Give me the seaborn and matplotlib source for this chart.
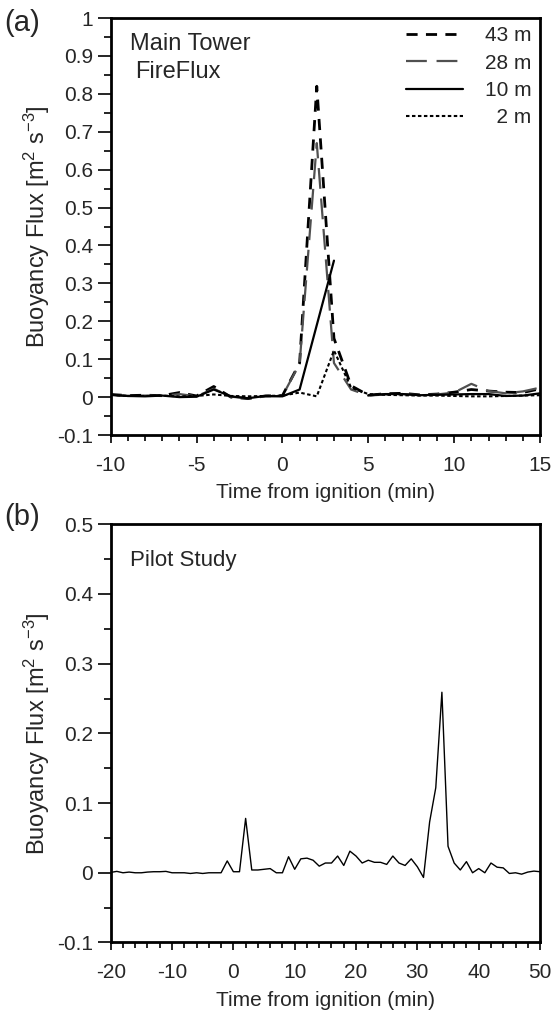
import numpy as np
import pandas as pd
import matplotlib
matplotlib.use("Agg")
import matplotlib.pyplot as plt
from matplotlib.lines import Line2D
from matplotlib.ticker import MultipleLocator, FuncFormatter
import seaborn as sns

# Panel (a): FireFlux main tower, 1-min buoyancy flux at four heights
time_a = list(range(-10, 16))
flux_43m = [0.007, 0.004, 0.005, 0.004, 0.012, 0.003, 0.028, 0.000, -0.004, 0.003,
            0.004, 0.090, 0.820, 0.155, 0.030, 0.005, 0.009, 0.010, 0.006, 0.008,
            0.013, 0.020, 0.016, 0.013, 0.012, 0.022]
flux_28m = [0.006, 0.003, 0.004, 0.003, 0.008, 0.002, 0.022, 0.001, -0.003, 0.002,
            0.003, 0.088, 0.670, 0.090, 0.020, 0.004, 0.007, 0.008, 0.005, 0.007,
            0.012, 0.035, 0.016, 0.010, 0.015, 0.025]
flux_10m = [0.006, 0.003, 0.002, 0.004, 0.000, 0.001, 0.020, 0.002, -0.003, 0.003,
            0.002, 0.020, 0.190, 0.360, np.nan, 0.005, 0.008, 0.008, 0.005, 0.006,
            0.007, 0.008, 0.008, 0.003, 0.004, 0.010]
flux_2m = [0.006, 0.003, 0.003, 0.004, 0.002, 0.003, 0.007, 0.003, 0.002, 0.003,
           0.004, 0.012, 0.002, 0.123, 0.025, 0.008, 0.006, 0.005, 0.004, 0.004,
           0.003, 0.002, 0.002, 0.003, 0.004, 0.005]
heights = ["43 m", "28 m", "10 m", "2 m"]

# Panel (b): pilot study
time_b = list(range(-20, 51))
flux_pilot = [0.0005, 0.002, 0.000, 0.001, 0.000, 0.000, 0.001, 0.0015, 0.0015, 0.002,
              0.000, 0.000, 0.000, -0.001, 0.000, -0.001, 0.000, 0.000, 0.000, 0.017,
              0.0015, 0.0015, 0.078, 0.004, 0.004, 0.005, 0.006, 0.000, 0.000, 0.023,
              0.005, 0.020, 0.021, 0.018, 0.0095, 0.014, 0.014, 0.024, 0.0105, 0.031,
              0.024, 0.014, 0.018, 0.015, 0.015, 0.012, 0.024, 0.014, 0.0105, 0.020,
              0.0086, -0.0067, 0.073, 0.122, 0.259, 0.038, 0.014, 0.004, 0.016, 0.000,
              0.006, 0.000, 0.014, 0.008, 0.007, -0.001, 0.000, -0.002, 0.001, 0.0024,
              0.0015]

sns.set_style("white")
plt.rcParams["font.family"] = ["Liberation Sans", "DejaVu Sans"]
plt.rcParams["mathtext.fontset"] = "custom"
plt.rcParams["mathtext.rm"] = "Liberation Sans"
plt.rcParams["mathtext.it"] = "Liberation Sans:italic"
plt.rcParams["lines.scale_dashes"] = False

styles = {
    "43 m": dict(color="black", lw=2.0, dashes=(8, 6)),
    "28 m": dict(color="#505050", lw=1.6, dashes=(15, 7)),
    "10 m": dict(color="black", lw=1.6, dashes=None),
    "2 m": dict(color="black", lw=1.5, dashes=(2.5, 1.8)),
}

df_a = pd.DataFrame({"time": time_a, "43 m": flux_43m, "28 m": flux_28m,
                     "10 m": flux_10m, "2 m": flux_2m})
df_a = df_a.melt(id_vars="time", var_name="height", value_name="flux")
# gaps in a record break the line
df_a["segment"] = df_a.groupby("height")["flux"].transform(lambda s: s.isna().cumsum())
df_a = df_a.dropna()

df_b = pd.DataFrame({"time": time_b, "flux": flux_pilot})

fig = plt.figure(figsize=(5.51, 10.19), dpi=100)
ax1 = fig.add_axes([0.2009, 0.5731, 0.7792, 0.4092])
ax2 = fig.add_axes([0.2009, 0.0751, 0.7792, 0.4104])

handles = []
for h in heights:
    st = styles[h]
    sub = df_a[df_a["height"] == h]
    sns.lineplot(data=sub, x="time", y="flux", units="segment", estimator=None,
                 color=st["color"], lw=st["lw"], ax=ax1)
    hnd = Line2D([], [], color=st["color"], lw=st["lw"])
    if st["dashes"] is not None:
        for ln in ax1.lines[-sub["segment"].nunique():]:
            ln.set_dashes(st["dashes"])
        hnd.set_dashes(st["dashes"])
    handles.append(hnd)

sns.lineplot(data=df_b, x="time", y="flux", color="black", lw=1.0, ax=ax2)

fmt = FuncFormatter(lambda v, p: f"{v:g}")
for ax, (x0, x1, xmaj, xmin), (y0, y1, ymaj, ymin) in [
        (ax1, (-10, 15, 5, 1), (-0.1, 1.0, 0.1, 0.05)),
        (ax2, (-20, 50, 10, 2), (-0.1, 0.5, 0.1, 0.05))]:
    ax.set_xlim(x0, x1)
    ax.set_ylim(y0, y1)
    ax.xaxis.set_major_locator(MultipleLocator(xmaj))
    ax.xaxis.set_minor_locator(MultipleLocator(xmin))
    ax.yaxis.set_major_locator(MultipleLocator(ymaj))
    ax.yaxis.set_minor_locator(MultipleLocator(ymin))
    ax.xaxis.set_major_formatter(fmt)
    ax.yaxis.set_major_formatter(fmt)
    ax.tick_params(which="both", direction="out", left=True, bottom=True,
                   labelsize=15, color="black", width=1.2)
    ax.tick_params(axis="y", which="major", length=9.5, pad=3)
    ax.tick_params(axis="y", which="minor", length=5)
    ax.tick_params(axis="x", which="major", length=6, pad=9)
    ax.tick_params(axis="x", which="minor", length=4)
    for sp in ax.spines.values():
        sp.set_visible(True)
        sp.set_color("black")
        sp.set_linewidth(2.0)
    ax.set_xlabel("Time from ignition (min)", fontsize=15, labelpad=6)
    ax.set_ylabel("Buoyancy Flux [m$^2$ s$^{-3}$]", fontsize=17, labelpad=4)

ax1.text(0.045, 0.923, "Main Tower", transform=ax1.transAxes, fontsize=17)
ax1.text(0.058, 0.857, "FireFlux", transform=ax1.transAxes, fontsize=17)
ax2.text(0.045, 0.90, "Pilot Study", transform=ax2.transAxes, fontsize=16)

leg = ax1.legend(handles, ["43 m", "28 m", "10 m", "  2 m"], loc="upper right",
                 bbox_to_anchor=(1.0, 1.0), frameon=False, fontsize=15,
                 handlelength=2.75, handletextpad=1.05, labelspacing=0.4,
                 borderaxespad=0.0)

fig.text(0.008, 0.977, "(a)", fontsize=21, va="center")
fig.text(0.008, 0.493, "(b)", fontsize=21, va="center")

fig.savefig("out.png", dpi=100)
